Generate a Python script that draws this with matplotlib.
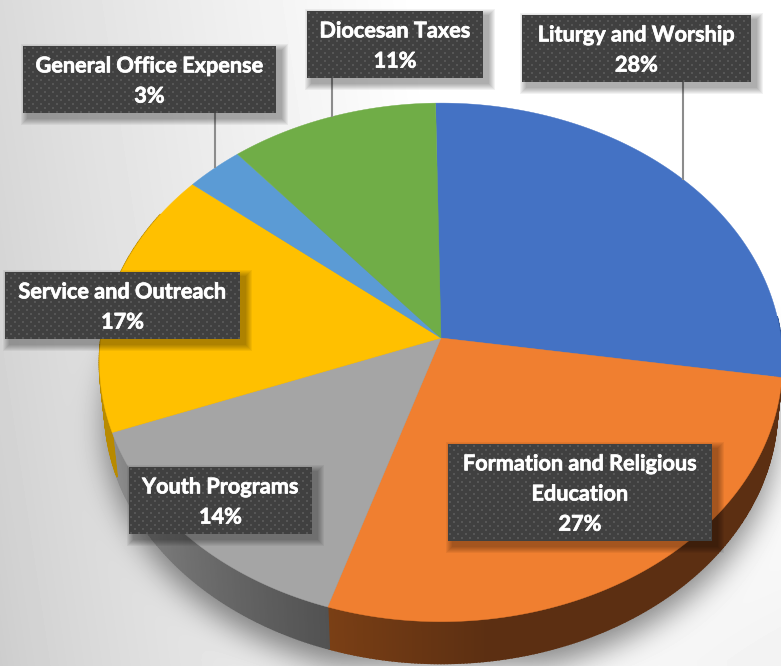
import numpy as np
import matplotlib
matplotlib.use("Agg")
import matplotlib.pyplot as plt
import matplotlib.patheffects as pe
from matplotlib.patches import Polygon, Rectangle
from matplotlib.path import Path
from matplotlib.colors import to_rgb

# ---- data ----
categories = ["Liturgy and Worship", "Formation and Religious\nEducation", "Youth Programs",
              "Service and Outreach", "General Office Expense", "Diocesan Taxes"]
shares = [27.7, 27.49, 14.3, 16.7, 3.0, 10.81]

# ---- style ----
top_colors = ["#4472C4", "#F07F30", "#A5A5A5", "#FFC000", "#5B9BD5", "#70AD47"]
wall_near = ["#2F5597", "#5C2F12", "#525252", "#B88A00", "#3F6F9C", "#4E7A32"]
wall_far = ["#2F5597", "#7A3F15", "#8C8C8C", "#B88A00", "#3F6F9C", "#4E7A32"]
boxes = [(522, 15, 229, 67), (448, 444, 264, 97), (129, 467, 183, 67),
         (5, 272, 235, 67), (23, 46, 253, 67), (307, 11, 176, 67)]
leaders = {0: (683, 82, 180), 4: (215, 113, 168), 5: (332, 78, 117)}

W, H = 781, 666
CX, CY, RX, RY, K = 441.0, 338.0, 340.0, 257.0, 0.094
START, DEPTH, BOTTOM_SCALE = -1.0, 46.0, 0.985


def project(theta_deg, radius=1.0, depth=0.0):
    t = np.radians(theta_deg)
    u, v = radius * np.sin(t), radius * np.cos(t)
    w = 1 + K * v
    s = BOTTOM_SCALE if depth else 1.0
    return CX + s * RX * u / w, CY + depth + s * RY * -v / w


fig = plt.figure(figsize=(W / 100, H / 100), dpi=100)
ax = fig.add_axes([0, 0, 1, 1])
ax.set_xlim(0, W)
ax.set_ylim(H, 0)
ax.axis("off")

# background gradient with the soft shadow below the pie
yy, xx = np.mgrid[0:H, 0:W]
bg = 0.80 + 0.20 * np.clip((xx + 0.15 * (H - yy) - 60) / 520 + 0.12, 0, 1) ** 0.8
bg -= 0.05 * np.clip((yy - 420) / 240, 0, 1) * np.clip((xx - 400) / 380, 0, 1)
th = np.linspace(0, 360, 361)
sx, sy = project(th, depth=DEPTH)
mask = Path(np.c_[sx, sy + 16]).contains_points(np.c_[xx.ravel() + .5, yy.ravel() + .5]).reshape(H, W).astype(float)
kx = np.exp(-np.arange(-45, 46) ** 2 / (2 * 15.0 ** 2))
kx /= kx.sum()
pad = np.pad(mask, 45, mode="constant")
pad = np.apply_along_axis(lambda r: np.convolve(r, kx, mode="same"), 1, pad)
pad = np.apply_along_axis(lambda r: np.convolve(r, kx, mode="same"), 0, pad)
blur = pad[45:-45, 45:-45]
bg = bg * (1 - 0.46 * blur)
ax.imshow(np.clip(bg, 0, 1), cmap="gray", vmin=0, vmax=1, extent=(0, W, H, 0),
          aspect="auto", zorder=0, interpolation="bilinear")

# wedge boundaries come from the shares
edges = START + np.cumsum([0] + shares) * 360.0 / sum(shares)

# side wall, drawn as short strips so that its shade can change along the rim
for i in range(len(shares)):
    a0, a1 = edges[i], edges[i + 1]
    n = max(2, int(a1 - a0) * 2)
    ang = np.linspace(a0, a1, n + 1)
    c0, c1 = np.array(to_rgb(wall_near[i])), np.array(to_rgb(wall_far[i]))
    for j in range(n):
        if 85 < (ang[j] % 360) < 300:
            f = j / (n - 1)
            if i == 1:
                f = np.clip((f - 0.75) / 0.25, 0, 1)
            col = c0 + (c1 - c0) * f
            xa, ya = project(ang[j:j + 2])
            xb, yb = project(ang[j:j + 2], depth=DEPTH)
            ax.add_patch(Polygon(np.c_[np.r_[xa, xb[::-1]], np.r_[ya, yb[::-1]]],
                                 closed=True, fc=col, ec=col, lw=1.2, zorder=2))

# top surface
for i in range(len(shares)):
    ang = np.linspace(edges[i], edges[i + 1], 121)
    x, y = project(ang)
    ax.add_patch(Polygon(np.c_[np.r_[CX, x], np.r_[CY, y]], closed=True,
                         fc=top_colors[i], ec=top_colors[i], lw=0.3, zorder=3))

# leader lines
for i, (lx, y0, y1) in leaders.items():
    ax.plot([lx, lx], [y0, y1], color="#8C8C8C", lw=1.5, zorder=4, solid_capstyle="butt")

# data labels
tile = np.full((8, 8, 3), 0x40 / 255)
tile[1:3, 1:3] = 0x56 / 255
tile[5:7, 5:7] = 0x56 / 255
for i, (bx, by, bw, bh) in enumerate(boxes):
    for g in range(7, 0, -1):
        ax.add_patch(Rectangle((bx + 5 - g, by + 5 - g), bw + 2 * g, bh + 2 * g,
                               fc="black", ec="none", alpha=0.05, zorder=5))
    ny, nx = bh // 8 + 1, bw // 8 + 1
    img = np.tile(tile, (ny, nx, 1))[:bh, :bw]
    ax.imshow(img, extent=(bx, bx + bw, by + bh, by), aspect="auto",
              interpolation="nearest", zorder=6)
    t = ax.text(bx + bw / 2, by + bh / 2 + 1.5, f"{categories[i]}\n{round(shares[i])}%",
                ha="center", va="center", color="white", family="Lato", weight="bold",
                fontsize=15.6, linespacing=1.54, zorder=7)
    t.set_path_effects([pe.withStroke(linewidth=0.5, foreground="white")])

ax.set_xlim(0, W)
ax.set_ylim(H, 0)
fig.savefig("out.png", dpi=100)
